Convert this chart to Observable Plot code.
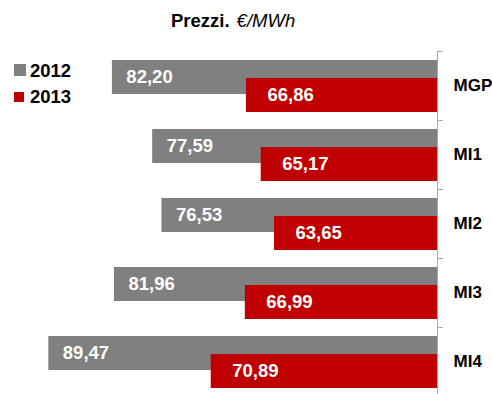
<!DOCTYPE html>
<html>
<head>
<meta charset="utf-8">
<script src="https://cdn.jsdelivr.net/npm/d3@7"></script>
<script src="https://cdn.jsdelivr.net/npm/@observablehq/plot@0.6"></script>
<style>
  body { margin: 0; background: #fff; }
  #chart { position: relative; width: 492px; height: 394px; font-family: "Liberation Sans", Arial, sans-serif; }
  #chart svg { position: absolute; left: 0; top: 0; }
  .title { position: absolute; left: 171px; top: 12px; font-size: 18.5px; line-height: 18.5px; color: #000; white-space: nowrap; }
  .title b { font-weight: bold; }
  .title i { font-style: italic; margin-left: 7px; }
  .legend-item { position: absolute; left: 30px; font-size: 18.5px; line-height: 18.5px; font-weight: bold; color: #000; }
  .swatch { position: absolute; left: 14px; }
</style>
</head>
<body>
<div id="chart"></div>
<script>
// Market segments and yearly average prices (€/MWh)
const categories = ["MGP", "MI1", "MI2", "MI3", "MI4"];
const prices2012 = [82.20, 77.59, 76.53, 81.96, 89.47];
const prices2013 = [66.86, 65.17, 63.65, 66.99, 70.89];
const years = ["2012", "2013"];
const colors = ["#808080", "#C00000"];

// value axis starts at 45 and grows leftwards from the category axis
const axisMin = 45;
const axisMax = 95;

const fmt = v => v.toFixed(2).replace(".", ",");
const rows2012 = categories.map((c, i) => ({cat: c, value: prices2012[i], label: fmt(prices2012[i])}));
const rows2013 = categories.map((c, i) => ({cat: c, value: prices2013[i], label: fmt(prices2013[i])}));

const yTop = 51, yBottom = 396;
const bandwidth = (yBottom - yTop) / categories.length;
const axisColor = "#a6a6a6";

const chart = Plot.plot({
  width: 492,
  height: 394,
  marginTop: yTop,
  marginBottom: 0,
  marginLeft: 0,
  marginRight: 55,
  style: {fontFamily: "Liberation Sans, Arial, sans-serif", background: "#fff"},
  x: {domain: [axisMin, axisMax], range: [437, 0], axis: null},
  y: {domain: categories, range: [yTop, yBottom], padding: 0, axis: null},
  marks: [
    Plot.barX(rows2012, {x1: axisMin, x2: "value", y: "cat", fill: colors[0], insetTop: 9, insetBottom: 26}),
    Plot.barX(rows2013, {x1: axisMin, x2: "value", y: "cat", fill: colors[1], insetTop: 27, insetBottom: 8}),
    Plot.text(rows2012, {x: "value", y: "cat", text: "label", textAnchor: "start", dx: 14, dy: -8.5,
      fill: "#fff", fontWeight: "bold", fontSize: 18.5}),
    Plot.text(rows2013, {x: "value", y: "cat", text: "label", textAnchor: "start", dx: 21, dy: 8.7,
      fill: "#fff", fontWeight: "bold", fontSize: 18.5}),
    Plot.ruleX([axisMin], {stroke: axisColor, strokeWidth: 1}),
    Plot.ruleY(categories, {y: d => d, x1: axisMin, x2: axisMin, insetRight: -6, dy: -bandwidth / 2,
      stroke: axisColor, strokeWidth: 1}),
    Plot.text(categories, {x: axisMin, y: d => d, text: d => d, textAnchor: "start", dx: 16,
      fill: "#000", fontWeight: "bold", fontSize: 17})
  ]
});

const root = document.getElementById("chart");
root.appendChild(chart);

// title
const title = document.createElement("div");
title.className = "title";
title.innerHTML = "<b>Prezzi.</b><i>€/MWh</i>";
root.appendChild(title);

// legend
const swatchSizes = [12, 10];
const swatchTops = [64, 92];
const labelTops = [61.6, 87.6];
years.forEach((yr, i) => {
  const sw = document.createElement("div");
  sw.className = "swatch";
  sw.style.top = swatchTops[i] + "px";
  sw.style.width = swatchSizes[i] + "px";
  sw.style.height = swatchSizes[i] + "px";
  sw.style.background = colors[i];
  root.appendChild(sw);
  const lb = document.createElement("div");
  lb.className = "legend-item";
  lb.style.top = labelTops[i] + "px";
  lb.textContent = yr;
  root.appendChild(lb);
});
</script>
</body>
</html>
